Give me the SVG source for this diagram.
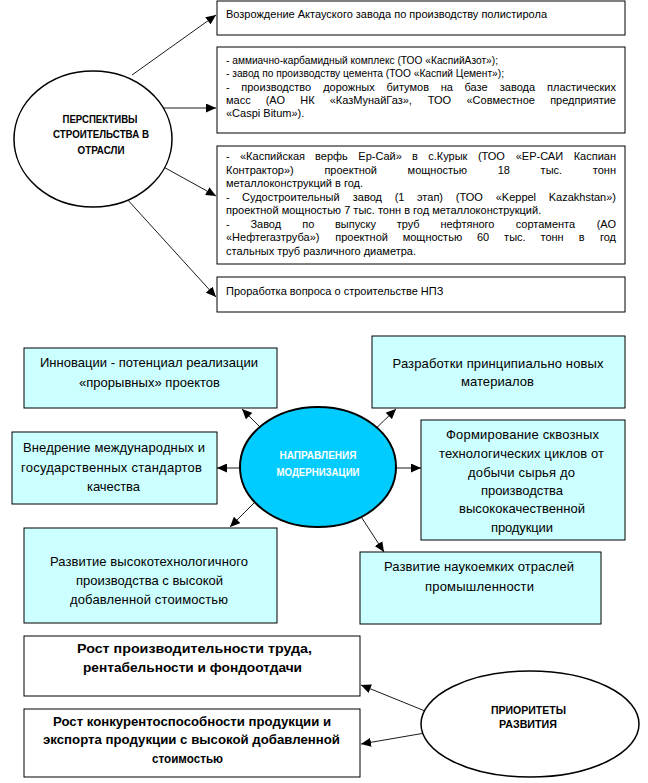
<svg xmlns="http://www.w3.org/2000/svg" width="648" height="783" viewBox="0 0 648 783">
<defs>
<marker id="ah" markerUnits="userSpaceOnUse" markerWidth="11" markerHeight="9" refX="10" refY="4.5" orient="auto">
<path d="M0,0 L10,4.5 L0,9 z" fill="#000"/>
</marker>
</defs>
<style>
.bx{fill:#fff;stroke:#000;stroke-width:1}
.cy{fill:#ccffff;stroke:#000;stroke-width:1}
.t11{font-family:"Liberation Sans",Arial,sans-serif;font-size:11px;fill:#000}
.t13{font-family:"Liberation Sans",Arial,sans-serif;font-size:13px;fill:#000;text-anchor:middle}
.b13{font-family:"Liberation Sans",Arial,sans-serif;font-size:13px;font-weight:bold;fill:#000;text-anchor:middle}
.b10{font-family:"Liberation Sans",Arial,sans-serif;font-size:10px;font-weight:bold;fill:#000;text-anchor:middle}
.w10{font-family:"Liberation Sans",Arial,sans-serif;font-size:10px;font-weight:bold;fill:#fff;text-anchor:middle}
.e{text-anchor:end}
.cn{stroke:#000;stroke-width:0.9;fill:none;marker-end:url(#ah)}
</style>
<rect width="648" height="783" fill="#fff"/>

<g id="connectors">
<line class="cn" x1="132" y1="75" x2="216" y2="15"/>
<line class="cn" x1="160" y1="108" x2="216" y2="108"/>
<line class="cn" x1="160" y1="165" x2="216" y2="196"/>
<line class="cn" x1="126" y1="198" x2="216" y2="297"/>

<line class="cn" x1="270" y1="437" x2="242" y2="409"/>
<line class="cn" x1="366" y1="438" x2="396" y2="409"/>
<line class="cn" x1="250" y1="468" x2="217" y2="468"/>
<line class="cn" x1="388" y1="468" x2="421" y2="468"/>
<line class="cn" x1="256" y1="501" x2="230" y2="527"/>
<line class="cn" x1="358" y1="512" x2="384" y2="552"/>

<line class="cn" x1="425" y1="711" x2="361" y2="685"/>
<line class="cn" x1="425" y1="733" x2="361" y2="744"/>
</g>

<g id="perspektivy">
<ellipse cx="93" cy="139" rx="79" ry="68" fill="#fff" stroke="#000" stroke-width="1.5"/>
<text class="b10" x="100" y="123" textLength="75" lengthAdjust="spacingAndGlyphs">ПЕРСПЕКТИВЫ</text>
<text class="b10" x="101" y="138" textLength="96" lengthAdjust="spacingAndGlyphs">СТРОИТЕЛЬСТВА В</text>
<text class="b10" x="101" y="154" textLength="47" lengthAdjust="spacingAndGlyphs">ОТРАСЛИ</text>
</g>

<g id="box1">
<rect class="bx" x="217" y="1" width="408" height="34"/>
<text class="t11" x="226" y="18">Возрождение Актауского завода по производству полистирола</text>
</g>

<g id="box2">
<rect class="bx" x="217" y="47" width="408" height="86"/>
<text class="t11" x="226" y="64" textLength="272" lengthAdjust="spacingAndGlyphs">- аммиачно-карбамидный комплекс (ТОО «КаспийАзот»);</text>
<text class="t11" x="226" y="77" textLength="278" lengthAdjust="spacingAndGlyphs">- завод по производству цемента (ТОО «Каспий Цемент»);</text>
<text class="t11" y="91"><tspan x="226">-</tspan><tspan x="241.3">производство</tspan><tspan x="323.2">дорожных</tspan><tspan x="386.5">битумов</tspan><tspan x="440.7">на</tspan><tspan x="464.5">базе</tspan><tspan x="499.8">завода</tspan></text>
<text class="t11 e" x="616" y="91">пластических</text>
<text class="t11" y="104"><tspan x="226">масс</tspan><tspan x="265.7">(АО</tspan><tspan x="300.3">НК</tspan><tspan x="329.7">«КазМунайГаз»,</tspan><tspan x="427.7">ТОО</tspan><tspan x="466.5">«Совместное</tspan></text>
<text class="t11 e" x="616" y="104">предприятие</text>
<text class="t11" x="226" y="117">«Caspi Bitum»).</text>
</g>

<g id="box3">
<rect class="bx" x="217" y="146" width="408" height="118"/>
<text class="t11" y="160"><tspan x="226">-</tspan><tspan x="240">«Каспийская</tspan><tspan x="315.1">верфь</tspan><tspan x="358.3">Ер-Сай»</tspan><tspan x="412.1">в</tspan><tspan x="428.2">с.Курык</tspan><tspan x="477.9">(ТОО</tspan><tspan x="515.7">«ЕР-САИ</tspan></text>
<text class="t11 e" x="616" y="160">Каспиан</text>
<text class="t11" y="173.5"><tspan x="226">Контрактор»)</tspan><tspan x="324.4">проектной</tspan><tspan x="407.6">мощностью</tspan><tspan x="497.7">18</tspan><tspan x="540.6">тыс.</tspan></text>
<text class="t11 e" x="616" y="173.5">тонн</text>
<text class="t11" x="226" y="187">металлоконструкций в год.</text>
<text class="t11" y="200.5"><tspan x="226">-</tspan><tspan x="242.1">Судостроительный</tspan><tspan x="352.8">завод</tspan><tspan x="394.7">(1</tspan><tspan x="417">этап)</tspan><tspan x="455.8">(ТОО</tspan><tspan x="495.7">«Keppel</tspan></text>
<text class="t11 e" x="616" y="200.5">Kazakhstan»)</text>
<text class="t11" x="226" y="214">проектной мощностью 7 тыс. тонн в год металлоконструкций.</text>
<text class="t11" y="227.5"><tspan x="226">-</tspan><tspan x="250.4">Завод</tspan><tspan x="302.2">по</tspan><tspan x="335">выпуску</tspan><tspan x="396.7">труб</tspan><tspan x="440.4">нефтяного</tspan><tspan x="515.7">сортамента</tspan></text>
<text class="t11 e" x="616" y="227.5">(АО</text>
<text class="t11" y="241"><tspan x="226">«Нефтегазтруба»)</tspan><tspan x="335.3">проектной</tspan><tspan x="402.7">мощностью</tspan><tspan x="477">60</tspan><tspan x="504.1">тыс.</tspan><tspan x="540.5">тонн</tspan><tspan x="578.7">в</tspan></text>
<text class="t11 e" x="616" y="241">год</text>
<text class="t11" x="226" y="254.5">стальных труб различного диаметра.</text>
</g>

<g id="box4">
<rect class="bx" x="217" y="277" width="408" height="35"/>
<text class="t11" x="226" y="295">Проработка вопроса о строительстве НПЗ</text>
</g>

<g id="napravleniya">
<ellipse cx="318" cy="467" rx="78" ry="60" fill="#00ccff" stroke="#000" stroke-width="2"/>
<text class="w10" x="318" y="459" textLength="77" lengthAdjust="spacingAndGlyphs">НАПРАВЛЕНИЯ</text>
<text class="w10" x="318" y="476" textLength="83" lengthAdjust="spacingAndGlyphs">МОДЕРНИЗАЦИИ</text>
</g>

<g id="innovacii">
<rect class="cy" x="24" y="348" width="253" height="60"/>
<text class="t13" x="149" y="367" textLength="218" lengthAdjust="spacing">Инновации - потенциал реализации</text>
<text class="t13" x="149.5" y="387" textLength="141" lengthAdjust="spacing">«прорывных» проектов</text>
</g>

<g id="razrabotki">
<rect class="cy" x="372" y="336" width="253" height="72"/>
<text class="t13" x="498" y="368" textLength="211" lengthAdjust="spacing">Разработки принципиально новых</text>
<text class="t13" x="497.5" y="386" textLength="73" lengthAdjust="spacing">материалов</text>
</g>

<g id="vnedrenie">
<rect class="cy" x="12" y="432" width="205" height="72"/>
<text class="t13" x="114" y="452" textLength="182" lengthAdjust="spacing">Внедрение международных и</text>
<text class="t13" x="111.5" y="472" textLength="181" lengthAdjust="spacing">государственных стандартов</text>
<text class="t13" x="113.5" y="491" textLength="53" lengthAdjust="spacing">качества</text>
</g>

<g id="formirovanie">
<rect class="cy" x="421" y="420" width="204" height="120"/>
<text class="t13" x="522.5" y="439" textLength="153" lengthAdjust="spacing">Формирование сквозных</text>
<text class="t13" x="521.5" y="458" textLength="165" lengthAdjust="spacing">технологических циклов от</text>
<text class="t13" x="521.5" y="477" textLength="107" lengthAdjust="spacing">добычи сырья до</text>
<text class="t13" x="522" y="495" textLength="82" lengthAdjust="spacing">производства</text>
<text class="t13" x="522" y="513" textLength="126" lengthAdjust="spacing">высококачественной</text>
<text class="t13" x="522" y="532" textLength="62" lengthAdjust="spacing">продукции</text>
</g>

<g id="razvitie-vysokotech">
<rect class="cy" x="24" y="528" width="253" height="95"/>
<text class="t13" x="149" y="566" textLength="198" lengthAdjust="spacing">Развитие высокотехнологичного</text>
<text class="t13" x="149.5" y="585" textLength="147" lengthAdjust="spacing">производства с высокой</text>
<text class="t13" x="149" y="604" textLength="158" lengthAdjust="spacing">добавленной стоимостью</text>
</g>

<g id="razvitie-naukoemkih">
<rect class="cy" x="360" y="552" width="241" height="72"/>
<text class="t13" x="479" y="571" textLength="190" lengthAdjust="spacing">Развитие наукоемких отраслей</text>
<text class="t13" x="479.5" y="591" textLength="109" lengthAdjust="spacing">промышленности</text>
</g>

<g id="rost-proizvoditelnosti">
<rect class="bx" x="24" y="636" width="336" height="60"/>
<text class="b13" x="194.5" y="653" textLength="235" lengthAdjust="spacingAndGlyphs">Рост производительности труда,</text>
<text class="b13" x="192.5" y="672" textLength="219" lengthAdjust="spacingAndGlyphs">рентабельности и фондоотдачи</text>
</g>

<g id="rost-konkurentosposobnosti">
<rect class="bx" x="24" y="709" width="336" height="68"/>
<text class="b13" x="192" y="726" textLength="278" lengthAdjust="spacingAndGlyphs">Рост конкурентоспособности продукции и</text>
<text class="b13" x="191.5" y="744" textLength="297" lengthAdjust="spacingAndGlyphs">экспорта продукции с высокой добавленной</text>
<text class="b13" x="187.5" y="763" textLength="71" lengthAdjust="spacingAndGlyphs">стоимостью</text>
</g>

<g id="prioritety">
<ellipse cx="530" cy="724" rx="109" ry="53" fill="#fff" stroke="#000" stroke-width="1.5"/>
<text class="b10" x="528.5" y="714" textLength="75" lengthAdjust="spacingAndGlyphs">ПРИОРИТЕТЫ</text>
<text class="b10" x="528" y="728" textLength="58" lengthAdjust="spacingAndGlyphs">РАЗВИТИЯ</text>
</g>
</svg>
